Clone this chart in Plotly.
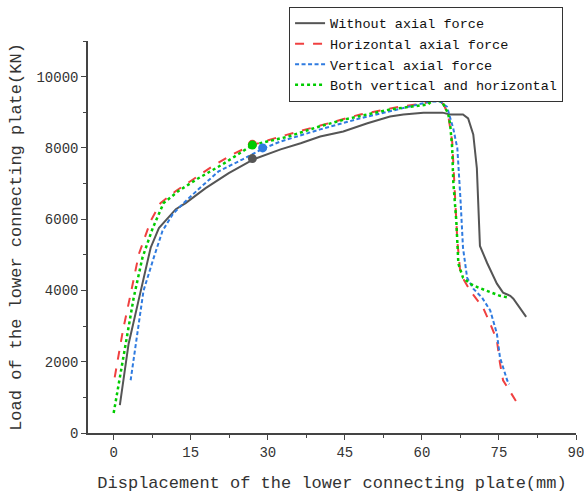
import plotly.graph_objects as go

# ---- data ----
names = ["Without axial force", "Horizontal axial force",
         "Vertical axial force", "Both vertical and horizontal"]

x_without = [1.2, 2.9, 4.7, 6.2, 7.2, 8.8, 12.1, 14.0, 17.9, 22.4, 27.2, 32.5, 36.4, 40.2, 44.7, 49.4,
             53.8, 56.4, 60.3, 64.0, 65.5, 68.0, 69.0, 70.0, 70.7, 71.3, 72.7, 74.6, 75.8, 77.2, 77.8, 80.3]
y_without = [780, 2500, 3630, 4550, 5200, 5750, 6280, 6450, 6870, 7290, 7680, 7960, 8130, 8320, 8460, 8690,
             8880, 8940, 8990, 8990, 8940, 8940, 8830, 8380, 7430, 5250, 4770, 4190, 3940, 3850, 3770, 3260]

x_horiz = [0.2, 1.8, 3.3, 4.9, 7.2, 9.1, 12.1, 15.9, 19.2, 23.1, 27.0, 32.5, 40.8, 48.0, 51.9,
           55.8, 60.3, 62.8, 64.2, 65.1, 65.9, 66.1, 66.5, 66.9, 67.5, 69.4, 71.9, 73.3, 74.6,
           75.2, 75.8, 77.8, 78.3]
y_horiz = [1560, 2880, 3900, 5020, 5950, 6450, 6790, 7150, 7480, 7820, 8080, 8320, 8650, 8940, 9050,
           9160, 9250, 9360, 9230, 8940, 8180, 7540, 6590, 5390, 4470, 3990, 3520, 3070, 2600,
           1960, 1480, 1000, 900]

x_vert = [3.3, 4.7, 5.8, 7.8, 9.5, 11.5, 13.6, 16.5, 20.4, 25.1, 29.2, 32.5, 40.2, 48.0, 55.8,
          61.6, 63.6, 64.9, 66.1, 66.9, 67.5, 68.0, 68.8, 70.0, 71.7, 73.3, 74.6, 75.2,
          76.6, 77.0]
y_vert = [1480, 2880, 3990, 4920, 5670, 6140, 6450, 6840, 7340, 7680, 7990, 8180, 8520, 8830, 9110,
          9300, 9300, 9150, 8550, 7990, 6590, 5200, 4360, 4050, 3800, 3440, 2790, 2120,
          1480, 1370]

x_both = [0.0, 1.4, 2.7, 3.9, 5.6, 7.6, 9.7, 12.6, 16.5, 21.2, 27.0, 34.0, 40, 45, 53.8,
          58.3, 61.2, 62.2, 63.9, 65.1, 65.5, 65.9, 66.1, 66.7, 67.1, 68.0, 69.4, 71.0, 73.7,
          75.2, 76.8]
y_both = [560, 1760, 2880, 3800, 4920, 5750, 6450, 6790, 7150, 7540, 8080, 8320, 8600, 8800, 9080,
          9160, 9220, 9360, 9300, 8970, 8660, 7990, 7070, 5950, 4750, 4360, 4190, 4080, 3940,
          3850, 3800]

marker_x = [27.0, 27.0, 29.0, 27.0]
marker_y = [7700, 8100, 8000, 8080]

x_ticks = [0, 15, 30, 45, 60, 75, 90]
y_ticks = [0, 2000, 4000, 6000, 8000, 10000]

# ---- styles ----
colors = ["#555555", "#f04040", "#2f7be0", "#00cc00"]
dashes = ["solid", "dash", "4px,2.5px", "dot"]
widths = [2, 2, 2, 2.5]
series = [(x_without, y_without), (x_horiz, y_horiz), (x_vert, y_vert), (x_both, y_both)]

FONT = "Liberation Mono"

fig = go.Figure()
for (xs, ys), n, c, d, w in zip(series, names, colors, dashes, widths):
    fig.add_trace(go.Scatter(x=xs, y=ys, mode="lines", name=n,
                             line=dict(color=c, dash=d, width=w)))
for i in [0, 2, 1, 3]:
    fig.add_trace(go.Scatter(x=[marker_x[i]], y=[marker_y[i]], mode="markers",
                             marker=dict(color=colors[i], size=9), showlegend=False))

axis_common = dict(showline=True, linecolor="#444444", linewidth=1.5, ticks="outside",
                   ticklen=5, tickwidth=1.2, tickcolor="#444444", showgrid=False, zeroline=False,
                   tickfont=dict(family=FONT, size=14, color="#333333"),
                   ticklabeloverflow="allow",
                   mirror=False, automargin=False)

fig.update_xaxes(range=[-5, 90], tickvals=x_ticks, ticktext=[str(v) for v in x_ticks],
                 minor=dict(dtick=7.5, tick0=0, ticks="outside", ticklen=3, tickcolor="#444444"),
                 title=dict(text="Displacement of the lower connecting plate(mm)",
                            font=dict(family=FONT, size=17, color="#333333"), standoff=17),
                 **axis_common)
fig.update_yaxes(range=[0, 11000], tickvals=y_ticks, ticktext=[str(v) for v in y_ticks],
                 minor=dict(dtick=1000, tick0=0, ticks="outside", ticklen=3, tickcolor="#444444"),
                 title=dict(text="Load of the lower connecting plate(KN)",
                            font=dict(family=FONT, size=17, color="#333333"), standoff=10),
                 **axis_common)

fig.update_layout(
    width=584, height=495,
    margin=dict(l=88, r=8, t=41, b=62, autoexpand=False),
    plot_bgcolor="white", paper_bgcolor="white",
    font=dict(family=FONT, color="#222222"),
    legend=dict(x=0.412, y=1.087, xanchor="left", yanchor="top",
                bordercolor="#333333", borderwidth=1, bgcolor="white",
                font=dict(family=FONT, size=13.5, color="#111111"),
                tracegroupgap=0, itemwidth=30),
    showlegend=True,
)

fig.write_html("out.html", config={"displayModeBar": False},
               post_script="document.body.style.margin='0';")
